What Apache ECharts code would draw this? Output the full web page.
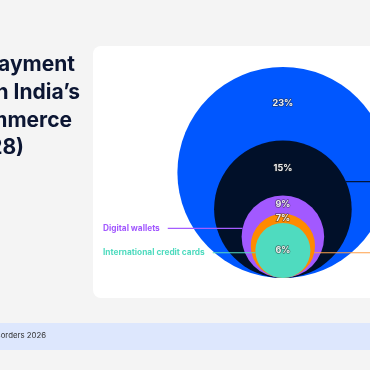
<!DOCTYPE html>
<html><head><meta charset="utf-8">
<script src="https://cdn.jsdelivr.net/npm/echarts@6/dist/echarts.min.js"></script>
<style>html,body{margin:0;padding:0;background:#f4f4f4}#c{width:370px;height:370px}</style>
</head><body><div id="c"></div>
<script>
// ---- data ----
const methods = ['Domestic cards', 'Bank transfers', 'Digital wallets', 'Cash on delivery', 'International credit cards'];
const shares = [23, 15, 9, 7, 6];
const shareLabels = ['23%', '15%', '9%', '7%', '6%'];
const titleLines = ['Share of payment', 'methods in India\u2019s', 'cross-border e-commerce', '(2023\u20132028)'];
const sourceText = 'Source: Paying Across Borders 2026';

// ---- style / layout config ----
const fills = ['#0057ff', '#011029', '#a259ff', '#ff8a00', '#4fdbbf'];
const lineColors = [null, '#02153a', '#a55dff', '#ffa04a', '#55dcc0'];
const leaderSide = ['none', 'right', 'left', 'right', 'left'];
const leaderLevel = [null, 21, 10.8, 5.5, 5.5]; // in y-axis units
const LABEL_X = 103;
const labelFont = 'bold 8.3px Inter';

const mctx = document.createElement('canvas').getContext('2d');
function tw(t, f) { mctx.font = f; return mctx.measureText(t).width; }

const chart = echarts.init(document.getElementById('c'), null, {renderer: 'canvas'});

function renderItem(params, api) {
  const i = params.dataIndex;
  const v = api.value(1);
  const c = api.coord([0, v]);
  const r = api.size([0, v])[1];
  const children = [{
    type: 'circle', shape: {cx: c[0], cy: c[1], r: r},
    style: {fill: fills[i]}, z2: i
  }];
  const next = i + 1 < shares.length ? shares[i + 1] : null;
  const ly = api.coord([0, next === null ? v : v + next])[1];
  children.push({
    type: 'text', z2: 300,
    style: {text: shareLabels[i], x: c[0], y: ly, fill: '#eeeeee', font: 'bold 9px Inter',
      align: 'center', verticalAlign: 'middle', textAlign: 'center', textVerticalAlign: 'middle',
      stroke: 'rgba(40,40,40,0.55)', lineWidth: 1.5}
  });
  if (leaderSide[i] !== 'none') {
    const py = api.coord([0, leaderLevel[i]])[1];
    const dy = py - c[1];
    const half = Math.sqrt(Math.max(r * r - dy * dy, 0));
    if (leaderSide[i] === 'left') {
      const w = tw(methods[i], labelFont);
      children.push({
        type: 'text', z2: 250,
        style: {text: methods[i], x: LABEL_X, y: py, fill: fills[i], font: labelFont,
          align: 'left', verticalAlign: 'middle', textAlign: 'left', textVerticalAlign: 'middle'}
      });
      children.push({
        type: 'line', z2: 200,
        shape: {x1: LABEL_X + w + 8, y1: py, x2: c[0] - half, y2: py},
        style: {stroke: lineColors[i], lineWidth: 1.2}
      });
    } else {
      children.push({
        type: 'line', z2: 200,
        shape: {x1: c[0] + half, y1: py, x2: 400, y2: py},
        style: {stroke: lineColors[i], lineWidth: 1.2}
      });
      children.push({
        type: 'text', z2: 250,
        style: {text: methods[i], x: 406, y: py, fill: fills[i], font: labelFont,
          align: 'left', verticalAlign: 'middle', textAlign: 'left', textVerticalAlign: 'middle'}
      });
    }
  }
  return {type: 'group', children: children};
}

const titleEnds = [75, 80, 72, 24];
const titleYs = [65, 92.5, 120.5, 147.5];

const option = {
  backgroundColor: '#f4f4f4',
  animation: false,
  graphic: [
    {type: 'rect', z: -10, shape: {x: 93, y: 46, width: 320, height: 252, r: 8}, style: {fill: '#ffffff'}},
    {type: 'rect', z: -10, shape: {x: 0, y: 323, width: 370, height: 27}, style: {fill: '#dde7fd'}},
    {type: 'text', z: 5, style: {text: sourceText, x: 46, y: 336, font: '7.8px Inter', fill: '#333333',
      align: 'right', verticalAlign: 'middle', textAlign: 'right', textVerticalAlign: 'middle'}}
  ].concat(titleLines.map((t, k) => ({
    type: 'text', z: 5,
    style: {text: t, x: titleEnds[k], y: titleYs[k], font: 'bold 21px Inter', fill: '#0c1633',
      align: 'right', verticalAlign: 'middle', textAlign: 'right', textVerticalAlign: 'middle'}
  }))),
  grid: {left: 99.5, top: 67, right: 0, bottom: 92},
  xAxis: {type: 'value', min: -40, max: 19, show: false},
  yAxis: {type: 'value', min: 0, max: 46, show: false},
  series: [{
    type: 'custom',
    renderItem: renderItem,
    data: shares.map((v, i) => [0, v, i]),
    clip: false
  }]
};
chart.setOption(option);
</script></body></html>
